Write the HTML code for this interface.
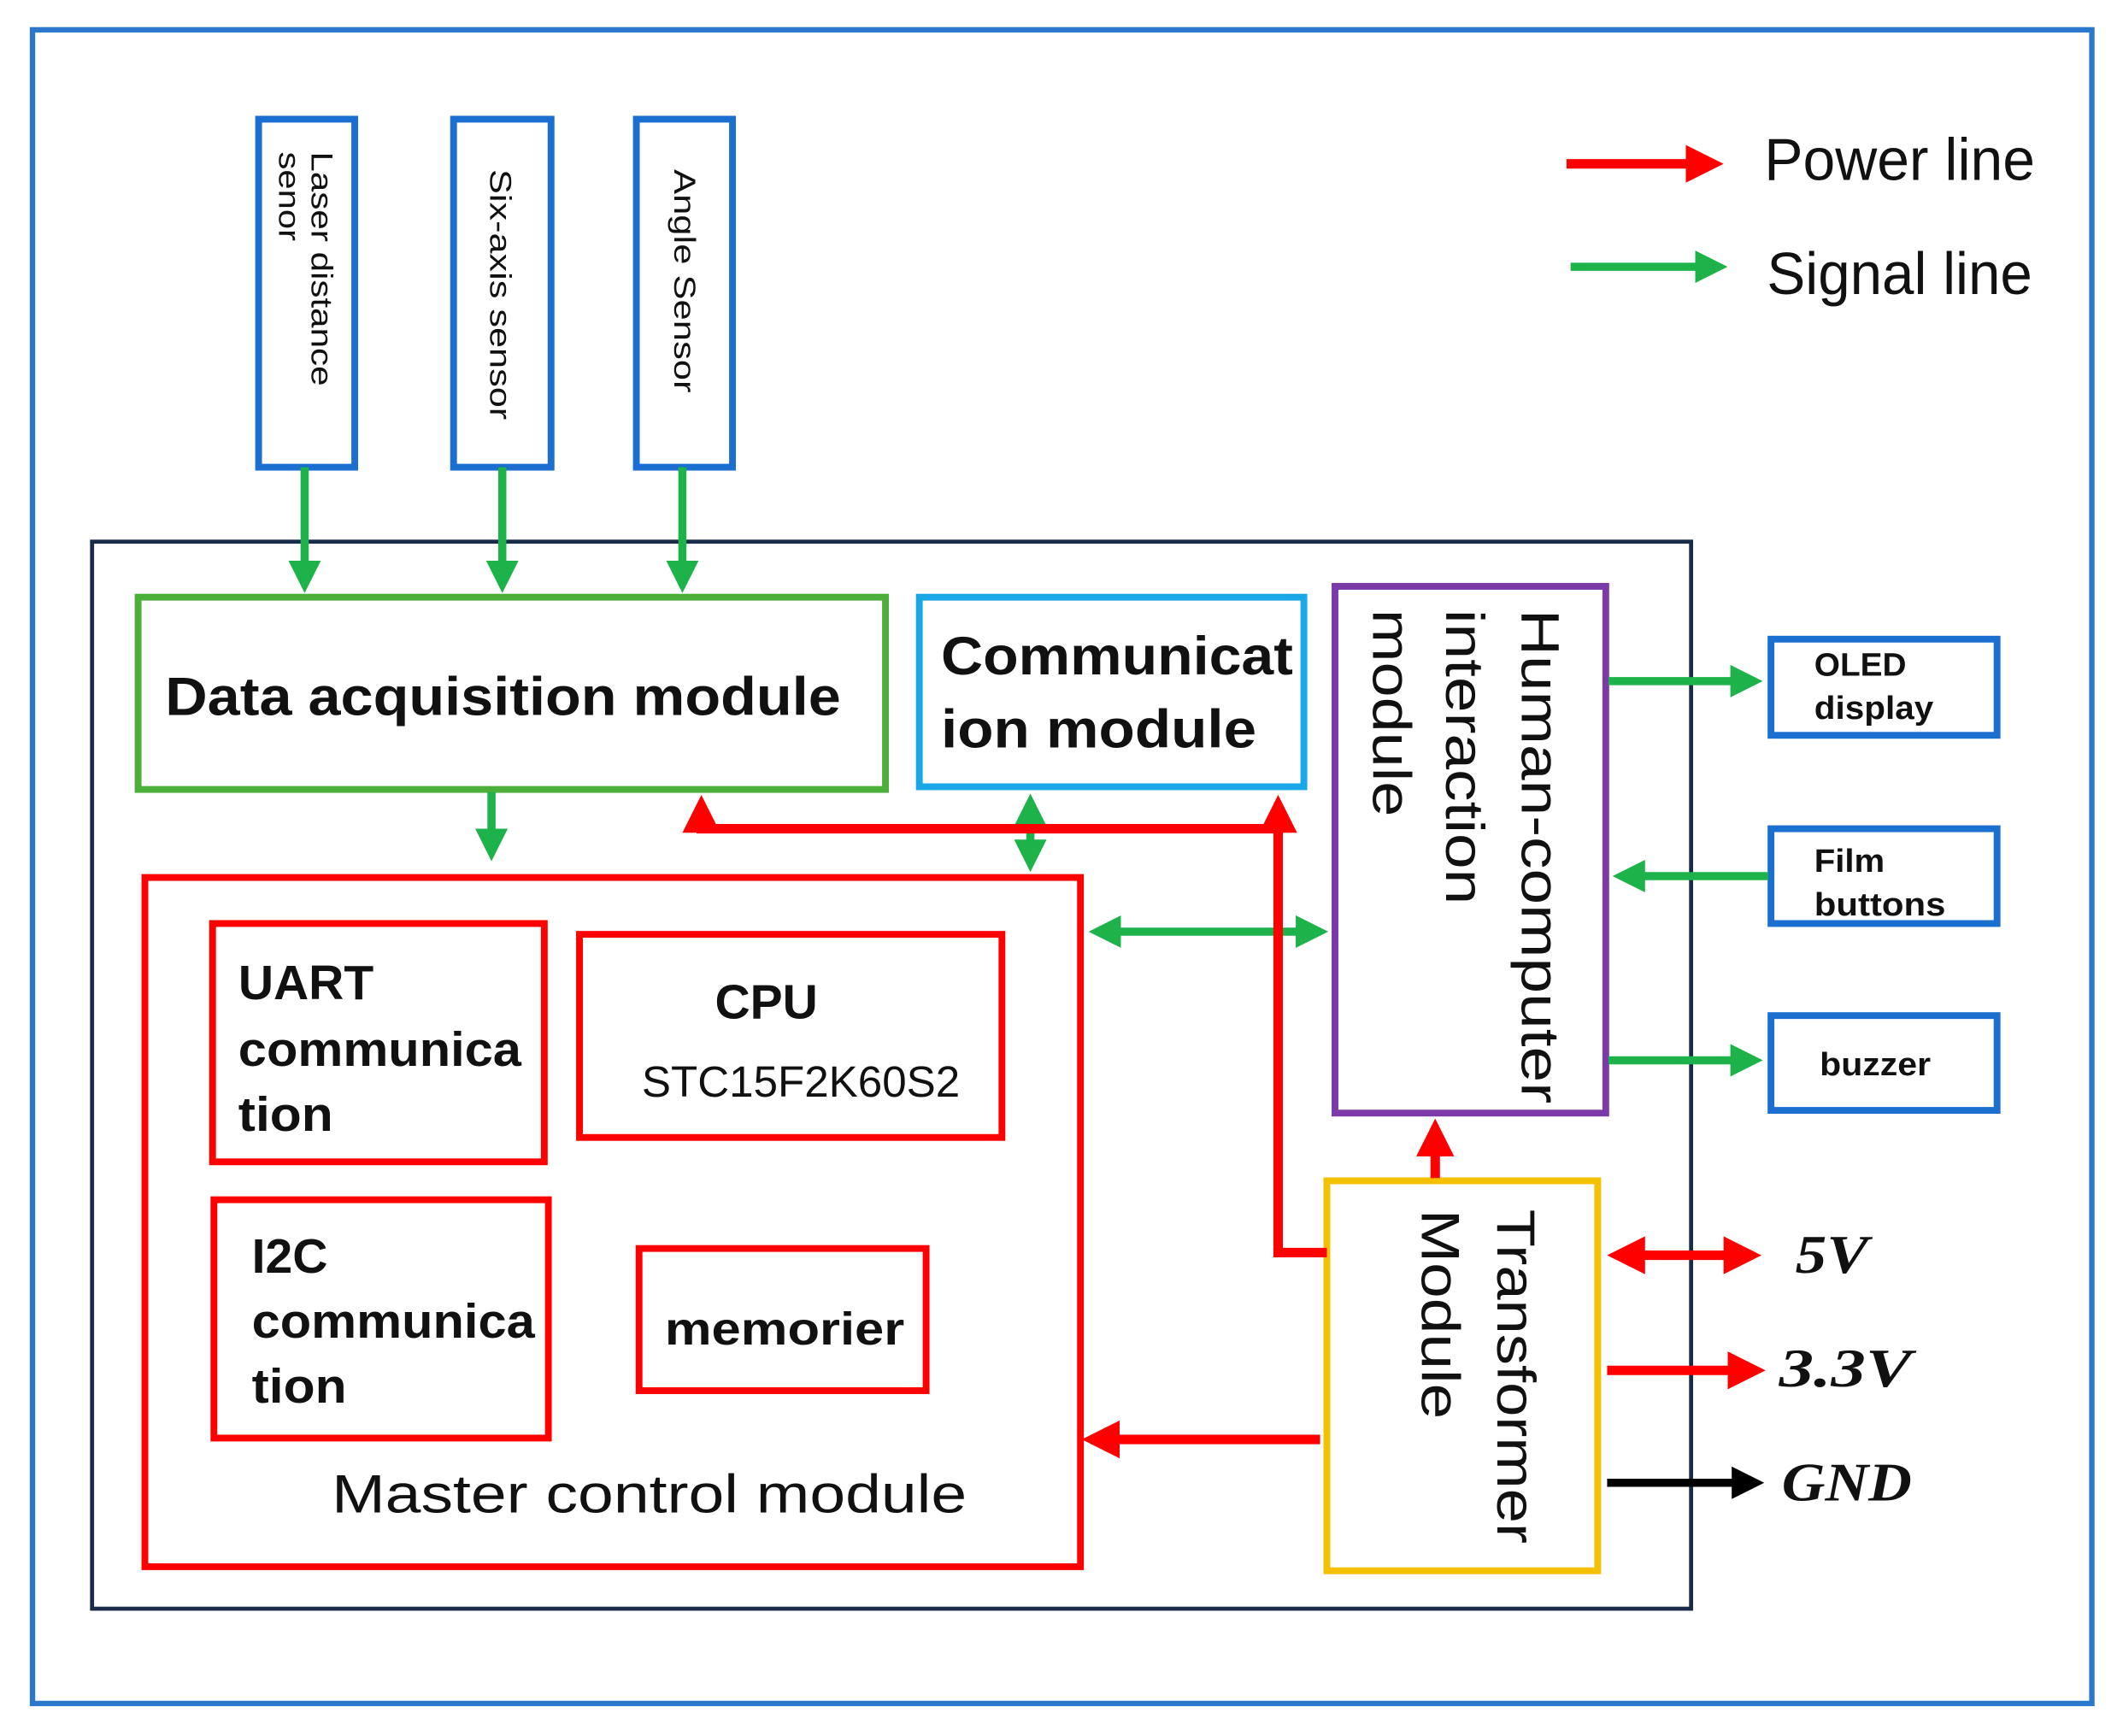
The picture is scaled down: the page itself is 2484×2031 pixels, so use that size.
<!DOCTYPE html>
<html><head><meta charset="utf-8"><style>html,body{margin:0;padding:0;background:#fff}svg{display:block}</style></head>
<body>
<svg width="2484" height="2031" viewBox="0 0 1568 1282" xmlns="http://www.w3.org/2000/svg" font-family="Liberation Sans, sans-serif">
<defs>
<marker id="g" markerWidth="4" markerHeight="4" refX="3" refY="2" orient="auto-start-reverse" markerUnits="strokeWidth"><path d="M0,0 L4,2 L0,4 Z" fill="#1db34a"/></marker>
<marker id="r" markerWidth="4" markerHeight="4" refX="3" refY="2" orient="auto-start-reverse" markerUnits="strokeWidth"><path d="M0,0 L4,2 L0,4 Z" fill="#f00"/></marker>
<marker id="k" markerWidth="4" markerHeight="4" refX="3" refY="2" orient="auto-start-reverse" markerUnits="strokeWidth"><path d="M0,0 L4,2 L0,4 Z" fill="#000"/></marker>
</defs>
<rect x="24" y="22" width="1521" height="1236" fill="none" stroke="#2a78cc" stroke-width="4"/>
<g fill="none" stroke="#1a6fd0" stroke-width="5">
<rect x="191" y="88" width="71" height="257"/><rect x="335" y="88" width="72" height="257"/><rect x="470" y="88" width="71" height="257"/>
<rect x="1308" y="472" width="167" height="71"/><rect x="1308" y="612" width="167" height="70"/><rect x="1308" y="750" width="167" height="70"/>
</g>
<g font-size="22" fill="#111" lengthAdjust="spacingAndGlyphs">
<text transform="translate(230,112) rotate(90)" textLength="173" lengthAdjust="spacingAndGlyphs">Laser distance</text>
<text transform="translate(206,112) rotate(90)" textLength="66" lengthAdjust="spacingAndGlyphs">senor</text>
<text transform="translate(362,125) rotate(90)" textLength="185" lengthAdjust="spacingAndGlyphs">Six-axis sensor</text>
<text transform="translate(498,125) rotate(90)" textLength="165" lengthAdjust="spacingAndGlyphs">Angle Sensor</text>
</g>
<rect x="68" y="400" width="1181" height="788" fill="none" stroke="#1a2b4a" stroke-width="3"/>
<rect x="102" y="441" width="552" height="142" fill="none" stroke="#4caf3a" stroke-width="5"/>
<rect x="679" y="441" width="284" height="140" fill="none" stroke="#1aa7e8" stroke-width="5"/>
<rect x="986" y="433" width="200" height="389" fill="none" stroke="#7b3aa8" stroke-width="5"/>
<g fill="none" stroke="#f00" stroke-width="5">
<rect x="107" y="648" width="691" height="509"/>
<rect x="157" y="682" width="245" height="176"/><rect x="428" y="690" width="312" height="150"/>
<rect x="158" y="886" width="247" height="176"/><rect x="472" y="922" width="212" height="105"/>
</g>
<rect x="980" y="872" width="200" height="288" fill="none" stroke="#f5c000" stroke-width="5"/>
<g font-weight="bold" fill="#111" font-size="40">
<text x="122" y="528" textLength="499" lengthAdjust="spacingAndGlyphs">Data acquisition module</text>
<text x="695" y="498" textLength="260" lengthAdjust="spacingAndGlyphs">Communicat</text><text x="695" y="552" textLength="233" lengthAdjust="spacingAndGlyphs">ion module</text>
<text font-weight="normal" transform="translate(1124,450) rotate(90)" textLength="365" lengthAdjust="spacingAndGlyphs">Human-computer</text>
<text font-weight="normal" transform="translate(1068,450) rotate(90)" textLength="218" lengthAdjust="spacingAndGlyphs">interaction</text>
<text font-weight="normal" transform="translate(1014,450) rotate(90)" textLength="153" lengthAdjust="spacingAndGlyphs">module</text>
<text font-weight="normal" transform="translate(1106,893) rotate(90)" textLength="247" lengthAdjust="spacingAndGlyphs">Transformer</text>
<text font-weight="normal" transform="translate(1050,893) rotate(90)" textLength="155" lengthAdjust="spacingAndGlyphs">Module</text>
<text font-weight="normal" x="245" y="1117" textLength="469" lengthAdjust="spacingAndGlyphs">Master control module</text>
</g>
<g font-weight="bold" fill="#111" font-size="36">
<text x="176" y="738">UART</text><text x="176" y="787" textLength="209" lengthAdjust="spacingAndGlyphs">communica</text><text x="176" y="835" textLength="70" lengthAdjust="spacingAndGlyphs">tion</text>
<text x="186" y="940">I2C</text><text x="186" y="988" textLength="209" lengthAdjust="spacingAndGlyphs">communica</text><text x="186" y="1036" textLength="70" lengthAdjust="spacingAndGlyphs">tion</text>
<text x="528" y="752" textLength="76" lengthAdjust="spacingAndGlyphs">CPU</text>
<text x="474" y="810" font-size="32" font-weight="normal" textLength="235" lengthAdjust="spacingAndGlyphs">STC15F2K60S2</text>
<text x="491" y="993" font-size="34" textLength="177" lengthAdjust="spacingAndGlyphs">memorier</text>
</g>
<g font-weight="bold" fill="#111" font-size="24">
<text x="1340" y="499" textLength="68" lengthAdjust="spacingAndGlyphs">OLED</text><text x="1340" y="531" textLength="88" lengthAdjust="spacingAndGlyphs">display</text>
<text x="1340" y="644" textLength="52" lengthAdjust="spacingAndGlyphs">Film</text><text x="1340" y="676" textLength="97" lengthAdjust="spacingAndGlyphs">buttons</text>
<text x="1344" y="794" textLength="82" lengthAdjust="spacingAndGlyphs">buzzer</text>
</g>
<g fill="#111" font-family="Liberation Serif, serif" font-style="italic" font-weight="bold" font-size="40">
<text x="1326" y="940" textLength="54" lengthAdjust="spacingAndGlyphs">5V</text><text x="1314" y="1024" textLength="98" lengthAdjust="spacingAndGlyphs">3.3V</text><text x="1316" y="1108" textLength="96" lengthAdjust="spacingAndGlyphs">GND</text>
</g>
<g font-size="44" fill="#111"><text x="1303" y="133" textLength="200" lengthAdjust="spacingAndGlyphs">Power line</text><text x="1305" y="217" textLength="196" lengthAdjust="spacingAndGlyphs">Signal line</text></g>
<g stroke="#1db34a" stroke-width="6" fill="none">
<line x1="1160" y1="197" x2="1270" y2="197" marker-end="url(#g)"/>
<line x1="225" y1="345" x2="225" y2="432" marker-end="url(#g)"/>
<line x1="371" y1="345" x2="371" y2="432" marker-end="url(#g)"/>
<line x1="504" y1="345" x2="504" y2="432" marker-end="url(#g)"/>
<line x1="363" y1="585" x2="363" y2="630" marker-end="url(#g)"/>
<line x1="761" y1="592" x2="761" y2="638" marker-start="url(#g)" marker-end="url(#g)"/>
<line x1="810" y1="688" x2="975" y2="688" marker-start="url(#g)" marker-end="url(#g)"/>
<line x1="1188" y1="503" x2="1296" y2="503" marker-end="url(#g)"/>
<line x1="1306" y1="647" x2="1197" y2="647" marker-end="url(#g)"/>
<line x1="1188" y1="783" x2="1296" y2="783" marker-end="url(#g)"/>
</g>
<g stroke="#f00" stroke-width="7" fill="none">
<line x1="1157" y1="121" x2="1266" y2="121" marker-end="url(#r)"/>
<polyline points="518,594 518,612 944,612"/>
<line x1="518" y1="612" x2="518" y2="594" marker-end="url(#r)"/>
<polyline points="980,925 944,925 944,594" marker-end="url(#r)"/>
<line x1="975" y1="1063" x2="806" y2="1063" marker-end="url(#r)"/>
<line x1="1060" y1="870" x2="1060" y2="833" marker-end="url(#r)"/>
<line x1="1194" y1="927" x2="1294" y2="927" marker-start="url(#r)" marker-end="url(#r)"/>
<line x1="1187" y1="1012" x2="1297" y2="1012" marker-end="url(#r)"/>
</g>
<line x1="1187" y1="1095" x2="1297" y2="1095" stroke="#000" stroke-width="6" marker-end="url(#k)"/>
</svg>
</body></html>
